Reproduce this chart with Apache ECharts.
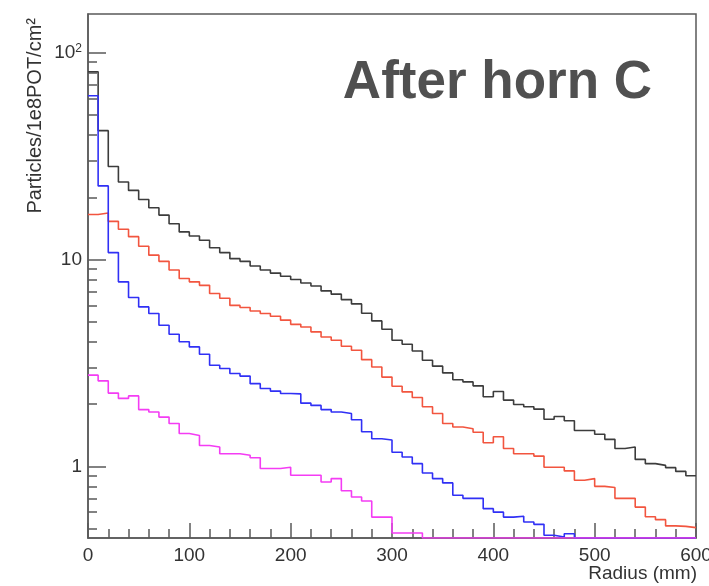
<!DOCTYPE html>
<html>
<head>
<meta charset="utf-8">
<script src="https://cdn.jsdelivr.net/npm/echarts@6/dist/echarts.min.js"></script>
<style>
html,body{margin:0;padding:0;background:#fff;}
#chart{width:709px;height:586px;}
</style>
</head>
<body>
<div id="chart"></div>
<script>
// Bin layout: 60 bins of 10 mm from 0 to 600 mm
const binCount = 60;
const radiusMin = 0;
const radiusMax = 600;

// Particles/1e8POT/cm^2 per bin (0 = empty bin)
const blackValues = [81, 42, 28.2, 23.7, 21.6, 19.5, 17.8, 16.4, 14.9, 13.6,
  13.0, 12.4, 11.4, 10.8, 10.1, 9.8, 9.3, 8.9, 8.6, 8.3,
  8.0, 7.7, 7.45, 7.05, 6.8, 6.4, 6.1, 5.5, 5.05, 4.6,
  4.07, 3.89, 3.61, 3.26, 3.05, 2.83, 2.62, 2.56, 2.45, 2.17,
  2.30, 2.09, 1.99, 1.94, 1.89, 1.69, 1.74, 1.66, 1.49, 1.49,
  1.43, 1.35, 1.22, 1.24, 1.08, 1.03, 1.01, 0.985, 0.945, 0.90];
const redValues = [16.5, 16.8, 15.3, 14.0, 12.9, 11.6, 10.5, 9.8, 8.9, 8.1,
  7.8, 7.5, 6.85, 6.5, 6.0, 5.86, 5.64, 5.48, 5.32, 5.09,
  4.86, 4.72, 4.47, 4.22, 4.07, 3.81, 3.64, 3.28, 3.02, 2.70,
  2.44, 2.29, 2.15, 1.94, 1.80, 1.61, 1.55, 1.52, 1.46, 1.30,
  1.39, 1.22, 1.15, 1.15, 1.12, 0.99, 0.99, 0.95, 0.856, 0.872,
  0.80, 0.79, 0.70, 0.70, 0.635, 0.57, 0.552, 0.515, 0.512, 0.505];
const blueValues = [62, 22.7, 10.8, 7.8, 6.55, 5.9, 5.48, 4.81, 4.35, 4.0,
  3.78, 3.48, 3.08, 2.97, 2.81, 2.73, 2.51, 2.38, 2.31, 2.25,
  2.24, 2.02, 1.97, 1.88, 1.83, 1.80, 1.68, 1.47, 1.36, 1.34,
  1.17, 1.11, 1.03, 0.928, 0.872, 0.831, 0.724, 0.70, 0.70, 0.624,
  0.60, 0.568, 0.573, 0.538, 0.524, 0.464, 0.455, 0.472, 0, 0,
  0, 0, 0, 0, 0, 0, 0, 0, 0, 0];
const magentaValues = [2.76, 2.59, 2.26, 2.13, 2.19, 1.88, 1.83, 1.73, 1.61, 1.44,
  1.41, 1.26, 1.24, 1.15, 1.15, 1.13, 1.10, 0.975, 0.975, 0.99,
  0.905, 0.905, 0.905, 0.84, 0.872, 0.762, 0.71, 0.68, 0.568, 0.568,
  0.476, 0.476, 0.476, 0, 0, 0, 0, 0, 0, 0,
  0, 0, 0, 0, 0, 0, 0, 0, 0, 0,
  0, 0, 0, 0, 0, 0, 0, 0, 0, 0];

// Axis ranges and ticks
const yMin = 0.45;
const yMax = 154;
const xTickLabels = [0, 100, 200, 300, 400, 500, 600];
const yMajorTicks = [1, 10, 100];
const yMinorTicks = [0.5, 0.6, 0.7, 0.8, 0.9, 2, 3, 4, 5, 6, 7, 8, 9, 20, 30, 40, 50, 60, 70, 80, 90];

const titleText = 'After horn C';
const xTitle = 'Radius (mm)';
const yTitle = 'Particles/1e8POT/cm²';

const FONT = '"Liberation Sans", Arial, Helvetica, sans-serif';
const frameColor = '#5a5a5a';

function histPoints(values) {
  const w = (radiusMax - radiusMin) / binCount;
  const pts = [];
  for (let i = 0; i < values.length; i++) {
    const v = values[i] > 0 ? values[i] : yMin; // empty bins drawn on the frame bottom (ROOT style)
    pts.push([radiusMin + i * w, v]);
  }
  const last = values[values.length - 1];
  pts.push([radiusMax, last > 0 ? last : yMin]);
  return pts;
}

function histSeries(name, values, color) {
  return {
    name: name,
    type: 'line',
    step: 'end',
    data: histPoints(values),
    showSymbol: false,
    symbol: 'none',
    clip: true,
    silent: true,
    animation: false,
    lineStyle: { color: color, width: 1.6 }
  };
}

const chart = echarts.init(document.getElementById('chart'), null, { renderer: 'canvas' });
const grid = {
  left: 88, right: 13, top: 14, bottom: 48,
  containLabel: false, outerBoundsMode: 'none',
  show: true, borderColor: frameColor, borderWidth: 1.5, backgroundColor: 'transparent'
};

chart.setOption({
  animation: false,
  backgroundColor: '#ffffff',
  grid: grid,
  xAxis: {
    type: 'value',
    min: radiusMin,
    max: radiusMax,
    interval: 100,
    axisLine: { show: true, lineStyle: { color: frameColor, width: 1.5 } },
    axisTick: { show: true, inside: true, length: 15, lineStyle: { color: frameColor, width: 1.5 } },
    minorTick: { show: true, splitNumber: 5, length: 9, lineStyle: { color: frameColor, width: 1.5 } },
    axisLabel: {
      show: true, margin: 8, fontSize: 19, color: '#333', fontFamily: FONT,
      customValues: xTickLabels,
      hideOverlap: false,
      formatter: v => String(v)
    },
    splitLine: { show: false },
    minorSplitLine: { show: false }
  },
  yAxis: [
    {
      type: 'log', logBase: 10, min: yMin, max: yMax, position: 'left',
      axisLine: { show: true, lineStyle: { color: frameColor, width: 1.5 } },
      axisTick: { show: true, inside: true, length: 18, customValues: yMajorTicks, lineStyle: { color: frameColor, width: 1.5 } },
      axisLabel: {
        show: true, margin: 6, fontSize: 19, color: '#333', fontFamily: FONT,
        customValues: yMajorTicks,
        formatter: v => (Math.abs(v - 100) < 1e-6 ? '10{sup|2}' : String(Math.round(v))),
        rich: { sup: { fontSize: 12, fontFamily: FONT, color: '#333', padding: [0, 0, 9, 0] } }
      },
      splitLine: { show: false },
      minorTick: { show: false }
    },
    {
      type: 'log', logBase: 10, min: yMin, max: yMax, position: 'left',
      axisLine: { show: false },
      axisTick: { show: true, inside: true, length: 9, customValues: yMinorTicks, lineStyle: { color: frameColor, width: 1.5 } },
      axisLabel: { show: false },
      splitLine: { show: false }
    }
  ],
  series: [
    histSeries('total', blackValues, '#3c3c3c'),
    histSeries('red', redValues, '#f2553f'),
    histSeries('blue', blueValues, '#3030f5'),
    histSeries('magenta', magentaValues, '#f43cf4')
  ],
  graphic: [
    {
      type: 'text', x: 652, y: 83,
      style: { text: titleText, font: 'bold 53px ' + FONT, fill: '#505050', align: 'right', verticalAlign: 'middle' },
      silent: true
    },
    {
      type: 'text', x: 697, y: 574,
      style: { text: xTitle, font: '19px ' + FONT, fill: '#333', align: 'right', verticalAlign: 'middle' },
      silent: true
    },
    {
      type: 'text', x: 35, y: 18, rotation: Math.PI / 2,
      style: { text: yTitle, font: '20px ' + FONT, fill: '#333', align: 'right', verticalAlign: 'middle' },
      silent: true
    }
  ]
});
</script>
</body>
</html>
